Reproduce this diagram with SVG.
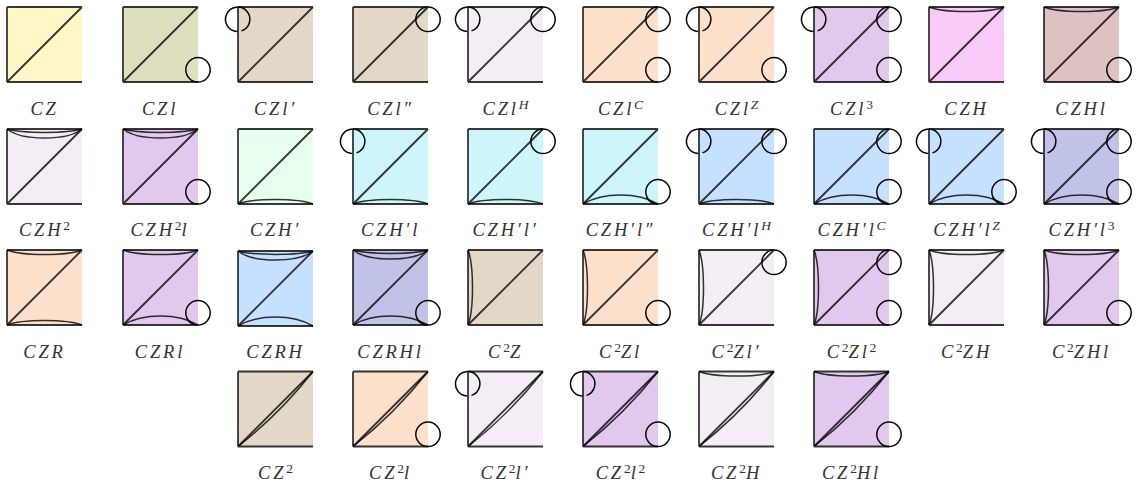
<svg xmlns="http://www.w3.org/2000/svg" width="1142" height="488" viewBox="0 0 1142 488">
<style>
.sq{stroke:none}
.ln{fill:none;stroke:#000;stroke-opacity:.8;stroke-width:1.5}
.edge{fill:none;stroke:#000;stroke-opacity:.78;stroke-width:1.8}
.cc{fill:none;stroke:#050505;stroke-width:1.5}
.lbl{font-family:"Liberation Serif","Times New Roman",serif;font-style:italic;font-size:18.5px;letter-spacing:2.8px;fill:#333;text-anchor:middle}
.sup{font-size:13.5px;letter-spacing:0}
.num{font-style:normal}
.y{fill:#fff7c8}.o{fill:#dfdfc0}.t{fill:#e3d8c8}.l{fill:#f4edf6}.p{fill:#fce0cc}.v{fill:#e1c8ec}.m{fill:#fbcbf8}.r{fill:#dec2c2}.g{fill:#e7ffee}.c{fill:#cdf5fb}.b{fill:#c6e1ff}.n{fill:#c0c2e8}
</style>
<defs>
<rect id="sq" class="sq" width="75" height="75"/>
<path id="z" class="edge" d="M0 0H75M0 0V75M0 75H75M0 75L75 0"/>
<path id="t1" class="ln" d="M0 0C15 6 60 6 75 0"/>
<path id="t2" class="ln" d="M0 0C15 4.500 60 4.500 75 0M0 0C15 12 60 12 75 0"/>
<path id="b1" class="ln" d="M0 75C15 69 60 69 75 75"/>
<path id="b2" class="ln" d="M0 75C20 63 55 63 75 75M63 69Q68 74 75 75"/>
<path id="b3" class="ln" d="M0 75C20 63 55 63 75 75"/>
<path id="s1" class="ln" d="M0 0C6 15 6 60 0 75"/>
<path id="d2" class="ln" d="M0 75Q42 42 75 0"/>
<path id="tl" class="cc" d="M-0.800 24.500A12.200 12.200 0 1 1 3.500 23.900"/>
<circle id="tr" class="cc" cx="75" cy="12.300" r="12.200"/>
<circle id="br" class="cc" cx="75" cy="62.800" r="12.200"/>
</defs>
<g id="connectors"/>

<g id="CZ" transform="translate(7,7)"><use href="#sq" class="y"/><use href="#z"/><text class="lbl" x="37.500" y="108">CZ</text></g>
<g id="CZl" transform="translate(123,7)"><use href="#sq" class="o"/><use href="#z"/><use href="#br"/><text class="lbl" x="37" y="108">CZl</text></g>
<g id="CZl1" transform="translate(238,7)"><use href="#sq" class="t"/><use href="#z"/><use href="#tl"/><text class="lbl" x="37.500" y="108">CZl′</text></g>
<g id="CZl2" transform="translate(353,7)"><use href="#sq" class="t"/><use href="#z"/><use href="#tr"/><text class="lbl" x="37.500" y="108">CZl″</text></g>
<g id="CZlH" transform="translate(468,7)"><use href="#sq" class="l"/><use href="#z"/><use href="#tl"/><use href="#tr"/><text class="lbl" x="37.500" y="108">CZl<tspan class="sup" dy="-6">H</tspan></text></g>
<g id="CZlC" transform="translate(583,7)"><use href="#sq" class="p"/><use href="#z"/><use href="#tr"/><use href="#br"/><text class="lbl" x="37.500" y="108">CZl<tspan class="sup" dy="-6">C</tspan></text></g>
<g id="CZlZ" transform="translate(699,7)"><use href="#sq" class="p"/><use href="#z"/><use href="#tl"/><use href="#br"/><text class="lbl" x="37.500" y="108">CZl<tspan class="sup" dy="-6">Z</tspan></text></g>
<g id="CZl3" transform="translate(814,7)"><use href="#sq" class="v"/><use href="#z"/><use href="#tl"/><use href="#tr"/><use href="#br"/><text class="lbl" x="37.500" y="108">CZl<tspan class="sup num" dy="-6">3</tspan></text></g>
<g id="CZH" transform="translate(929,7)"><use href="#sq" class="m"/><use href="#z"/><use href="#t1"/><text class="lbl" x="37.500" y="108">CZH</text></g>
<g id="CZHl" transform="translate(1044,7)"><use href="#sq" class="r"/><use href="#z"/><use href="#t1"/><use href="#br"/><text class="lbl" x="37.500" y="108">CZHl</text></g>

<g id="CZH2" transform="translate(7,129)"><use href="#sq" class="l"/><use href="#z"/><use href="#t2"/><text class="lbl" x="37.500" y="107">CZH<tspan class="sup num" dy="-6">2</tspan></text></g>
<g id="CZH2l" transform="translate(123,129)"><use href="#sq" class="v"/><use href="#z"/><use href="#t2"/><use href="#br"/><text class="lbl" x="37" y="107">CZH<tspan class="sup num" dy="-6">2</tspan><tspan dy="6">l</tspan></text></g>
<g id="CZHp" transform="translate(238,129)"><use href="#sq" class="g"/><use href="#z"/><use href="#b1"/><text class="lbl" x="37.500" y="107">CZH′</text></g>
<g id="CZHpl" transform="translate(353,129)"><use href="#sq" class="c"/><use href="#z"/><use href="#b1"/><use href="#tl"/><text class="lbl" x="37.500" y="107">CZH′l</text></g>
<g id="CZHpl1" transform="translate(468,129)"><use href="#sq" class="c"/><use href="#z"/><use href="#b1"/><use href="#tr"/><text class="lbl" x="37.500" y="107">CZH′l′</text></g>
<g id="CZHpl2" transform="translate(583,129)"><use href="#sq" class="c"/><use href="#z"/><use href="#b2"/><use href="#br"/><text class="lbl" x="37.500" y="107">CZH′l″</text></g>
<g id="CZHplH" transform="translate(699,129)"><use href="#sq" class="b"/><use href="#z"/><use href="#b1"/><use href="#tl"/><use href="#tr"/><text class="lbl" x="37.500" y="107">CZH′l<tspan class="sup" dy="-6">H</tspan></text></g>
<g id="CZHplC" transform="translate(814,129)"><use href="#sq" class="b"/><use href="#z"/><use href="#b2"/><use href="#tr"/><use href="#br"/><text class="lbl" x="37.500" y="107">CZH′l<tspan class="sup" dy="-6">C</tspan></text></g>
<g id="CZHplZ" transform="translate(929,129)"><use href="#sq" class="b"/><use href="#z"/><use href="#b2"/><use href="#tl"/><use href="#br"/><text class="lbl" x="37.500" y="107">CZH′l<tspan class="sup" dy="-6">Z</tspan></text></g>
<g id="CZHpl3" transform="translate(1044,129)"><use href="#sq" class="n"/><use href="#z"/><use href="#b2"/><use href="#tl"/><use href="#tr"/><use href="#br"/><text class="lbl" x="37.500" y="107">CZH′l<tspan class="sup num" dy="-6">3</tspan></text></g>

<g id="CZR" transform="translate(7,250)"><use href="#sq" class="p"/><use href="#z"/><use href="#t1"/><use href="#b1"/><text class="lbl" x="37.500" y="108">CZR</text></g>
<g id="CZRl" transform="translate(123,250)"><use href="#sq" class="v"/><use href="#z"/><use href="#t1"/><use href="#b2"/><use href="#br"/><text class="lbl" x="37" y="108">CZRl</text></g>
<g id="CZRH" transform="translate(238,251)"><use href="#sq" class="b"/><use href="#z"/><use href="#t2"/><use href="#b3"/><text class="lbl" x="37.500" y="107">CZRH</text></g>
<g id="CZRHl" transform="translate(353,250)"><use href="#sq" class="n"/><use href="#z"/><use href="#t2"/><use href="#b2"/><use href="#br"/><text class="lbl" x="37.500" y="108">CZRHl</text></g>
<g id="C2Z" transform="translate(468,250)"><use href="#sq" class="t"/><use href="#z"/><use href="#s1"/><text class="lbl" x="37.500" y="108">C<tspan class="sup num" dy="-6">2</tspan><tspan dy="6">Z</tspan></text></g>
<g id="C2Zl" transform="translate(583,250)"><use href="#sq" class="p"/><use href="#z"/><use href="#s1"/><use href="#br"/><text class="lbl" x="37.500" y="108">C<tspan class="sup num" dy="-6">2</tspan><tspan dy="6">Zl</tspan></text></g>
<g id="C2Zl1" transform="translate(699,250)"><use href="#sq" class="l"/><use href="#z"/><use href="#s1"/><use href="#tr"/><text class="lbl" x="37.500" y="108">C<tspan class="sup num" dy="-6">2</tspan><tspan dy="6">Zl′</tspan></text></g>
<g id="C2Zl2" transform="translate(814,250)"><use href="#sq" class="v"/><use href="#z"/><use href="#s1"/><use href="#tr"/><use href="#br"/><text class="lbl" x="37.500" y="108">C<tspan class="sup num" dy="-6">2</tspan><tspan dy="6">Zl</tspan><tspan class="sup num" dy="-6">2</tspan></text></g>
<g id="C2ZH" transform="translate(929,250)"><use href="#sq" class="l"/><use href="#z"/><use href="#s1"/><use href="#t1"/><text class="lbl" x="37.500" y="108">C<tspan class="sup num" dy="-6">2</tspan><tspan dy="6">ZH</tspan></text></g>
<g id="C2ZHl" transform="translate(1044,250)"><use href="#sq" class="v"/><use href="#z"/><use href="#s1"/><use href="#t1"/><use href="#br"/><text class="lbl" x="37.500" y="108">C<tspan class="sup num" dy="-6">2</tspan><tspan dy="6">ZHl</tspan></text></g>

<g id="CZ2" transform="translate(238,371.500)"><use href="#sq" class="t"/><use href="#z"/><use href="#d2"/><text class="lbl" x="37.500" y="107.500">CZ<tspan class="sup num" dy="-6">2</tspan></text></g>
<g id="CZ2l" transform="translate(353,371.500)"><use href="#sq" class="p"/><use href="#z"/><use href="#d2"/><use href="#br"/><text class="lbl" x="37.500" y="107.500">CZ<tspan class="sup num" dy="-6">2</tspan><tspan dy="6">l</tspan></text></g>
<g id="CZ2l1" transform="translate(468,371.500)"><use href="#sq" class="l"/><use href="#z"/><use href="#d2"/><use href="#tl"/><text class="lbl" x="37.500" y="107.500">CZ<tspan class="sup num" dy="-6">2</tspan><tspan dy="6">l′</tspan></text></g>
<g id="CZ2l2" transform="translate(583,371.500)"><use href="#sq" class="v"/><use href="#z"/><use href="#d2"/><use href="#tl"/><use href="#br"/><text class="lbl" x="37.500" y="107.500">CZ<tspan class="sup num" dy="-6">2</tspan><tspan dy="6">l</tspan><tspan class="sup num" dy="-6">2</tspan></text></g>
<g id="CZ2H" transform="translate(699,371.500)"><use href="#sq" class="l"/><use href="#z"/><use href="#d2"/><use href="#t1"/><text class="lbl" x="37.500" y="107.500">CZ<tspan class="sup num" dy="-6">2</tspan><tspan dy="6">H</tspan></text></g>
<g id="CZ2Hl" transform="translate(814,371.500)"><use href="#sq" class="v"/><use href="#z"/><use href="#d2"/><use href="#t1"/><use href="#br"/><text class="lbl" x="37.500" y="107.500">CZ<tspan class="sup num" dy="-6">2</tspan><tspan dy="6">Hl</tspan></text></g>
</svg>
